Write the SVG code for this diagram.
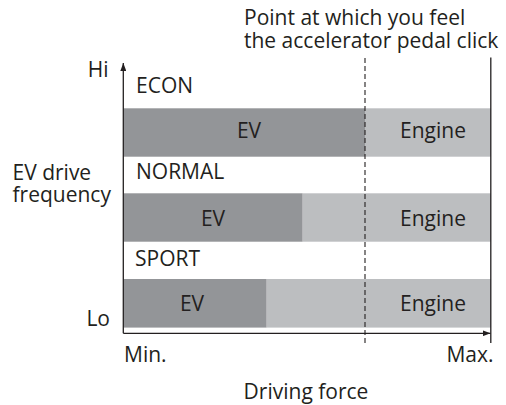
<svg xmlns="http://www.w3.org/2000/svg" width="506" height="405" viewBox="0 0 506 405">
  <style>
    text { font-family: "Open Sans", "Noto Sans", "Liberation Sans", sans-serif; font-size: 21px; fill: #231f20; }
    .mid { text-anchor: middle; }
    .end { text-anchor: end; }
    .dark { fill: #939598; }
    .light { fill: #bcbec0; }
    .axis { stroke: #231f20; stroke-width: 1.3; fill: none; }
    .dash { stroke: #231f20; stroke-width: 1.1; stroke-dasharray: 5 3; fill: none; }
  </style>
  <defs>
    <marker id="arrow" viewBox="0 0 8 6" refX="8" refY="3" markerWidth="8" markerHeight="6" markerUnits="userSpaceOnUse" orient="auto">
      <path d="M0,0 L8,3 L0,6 Z" fill="#231f20"/>
    </marker>
  </defs>

  <g id="title">
    <text x="244" y="25">Point at which you feel<tspan x="244" y="48">the accelerator pedal click</tspan></text>
  </g>

  <g id="y-labels">
    <text class="end" x="108.5" y="77">Hi</text>
    <text x="12.5" y="179.5">EV drive<tspan x="12.5" y="201.5">frequency</tspan></text>
    <text class="end" x="110" y="326">Lo</text>
  </g>

  <g id="econ">
    <text x="136" y="93.3">ECON</text>
    <rect class="dark" x="123.5" y="108.3" width="241.5" height="48.4"/>
    <rect class="light" x="365" y="108.3" width="125.8" height="48.4"/>
    <text class="mid" x="249" y="137.5">EV</text>
    <text class="mid" x="433" y="137.5">Engine</text>
  </g>

  <g id="normal">
    <text x="136" y="179">NORMAL</text>
    <rect class="dark" x="123.5" y="193.3" width="179.2" height="48.4"/>
    <rect class="light" x="302.7" y="193.3" width="188.1" height="48.4"/>
    <text class="mid" x="213" y="226">EV</text>
    <text class="mid" x="433" y="226">Engine</text>
  </g>

  <g id="sport">
    <text x="135" y="266">SPORT</text>
    <rect class="dark" x="123.5" y="279" width="143.2" height="48.6"/>
    <rect class="light" x="266.7" y="279" width="224.1" height="48.6"/>
    <text class="mid" x="192" y="311">EV</text>
    <text class="mid" x="433" y="311">Engine</text>
  </g>

  <g id="connectors">
    <line class="axis" x1="123.3" y1="333.3" x2="123.3" y2="63" marker-end="url(#arrow)"/>
    <line class="axis" x1="123.3" y1="333.3" x2="490.5" y2="333.3" marker-end="url(#arrow)"/>
    <line class="axis" x1="490.8" y1="57.5" x2="490.8" y2="343"/>
    <line class="dash" x1="365" y1="58" x2="365" y2="343"/>
  </g>

  <g id="x-labels">
    <text x="124" y="362.3">Min.</text>
    <text class="end" x="493.5" y="362.3">Max.</text>
    <text class="mid" x="306" y="399">Driving force</text>
  </g>
</svg>
